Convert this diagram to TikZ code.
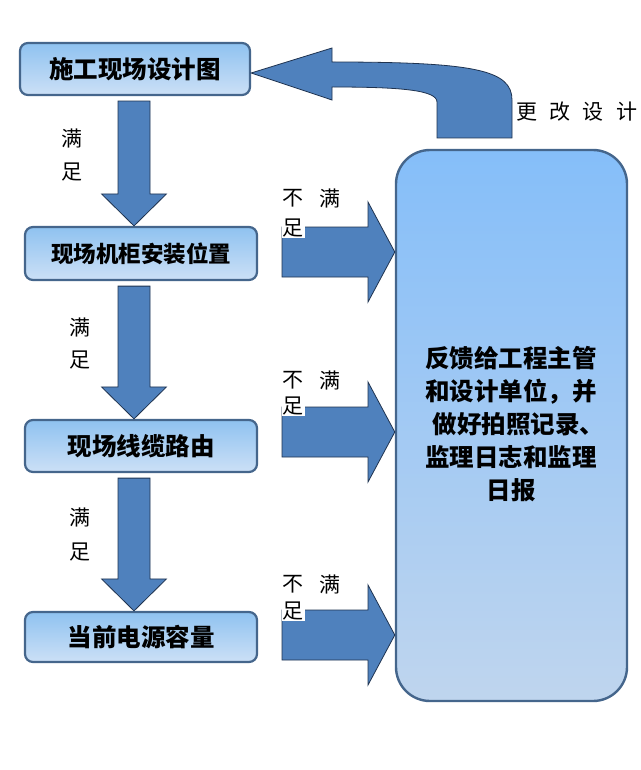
\documentclass[tikz,border=0pt]{standalone}
\usepackage{fontspec}
\setmainfont{Noto Sans CJK SC}
\usetikzlibrary{calc}
\definecolor{arrfill}{HTML}{4F81BD}
\definecolor{arrline}{HTML}{1F3350}
\definecolor{boxtop}{HTML}{8FC2F0}
\definecolor{boxbot}{HTML}{CCE0F6}
\definecolor{boxline}{HTML}{45668C}
\definecolor{bigtop}{HTML}{85BEF9}
\definecolor{bigbot}{HTML}{BFD5EE}
\tikzset{
  stepbox/.style={draw=boxline, line width=2.2pt, rounded corners=8pt,
    top color=boxtop, bottom color=boxbot, minimum height=52pt,
    font=\fontsize{24.5}{26}\selectfont\bfseries, inner sep=0pt},
  bigbox/.style={draw=boxline, line width=2.4pt, rounded corners=34pt,
    top color=bigtop, bottom color=bigbot, inner sep=0pt},
  blockarrow/.style={fill=arrfill, draw=arrline, line width=0.8pt, line join=miter},
  lbl/.style={font=\fontsize{21}{22}\selectfont, inner sep=0pt, text=black},
}
\newcommand\myDownArrow[2]{%
  \path[blockarrow] ($(ax |- #1.south)+(-16,5)$) -- ($(ax |- #1.south)+(16,5)$)
    -- ($(ax |- #2.north)+(16,-32)$) -- ($(ax |- #2.north)+(32.5,-32)$)
    -- ($(ax |- #2.north)+(0,0)$) -- ($(ax |- #2.north)+(-32.5,-32)$)
    -- ($(ax |- #2.north)+(-16,-32)$) -- cycle;}
\newcommand\myRightArrow[2]{%
  \path[blockarrow] (282,#2-25) -- (368,#2-25) -- (368,#2-50)
    -- (#1.west |- 0,#2) -- (368,#2+50) -- (368,#2+25) -- (282,#2+25) -- cycle;}
\begin{document}
\begin{tikzpicture}[x=1pt,y=-1pt]
\useasboundingbox (0,0) rectangle (640,770);
\fill[white] (0,0) rectangle (640,770);
\coordinate (ax) at (134,0);
% boxes
\node[stepbox, minimum width=230pt] (b1) at (135,69) {施工现场设计图};
\node[stepbox, minimum width=232pt, minimum height=53pt, font=\fontsize{22.5}{26}\selectfont\bfseries] (b2) at (141,253.5) {现场机柜安装位置};
\node[stepbox, minimum width=232pt] (b3) at (141,446) {现场线缆路由};
\node[stepbox, minimum width=232pt, minimum height=50pt] (b4) at (141,637) {当前电源容量};
\node[bigbox, minimum width=231pt, minimum height=551pt] (big) at (511.5,425.5) {};
\node[font=\fontsize{24.5}{33}\selectfont\bfseries, align=center, inner sep=0pt] (bigtxt) at (511,424)
  {反馈给工程主管\\和设计单位，并\\\hspace*{0.6em}做好拍照记录、\\监理日志和监理\\日报};
% down arrows
\myDownArrow{b1}{b2}
\myDownArrow{b2}{b3}
\myDownArrow{b3}{b4}
% right arrows
\myRightArrow{big}{252}
\myRightArrow{big}{432}
\myRightArrow{big}{635}
% curved feedback arrow
\path[blockarrow] (b1.east |- 0,73) -- (332,48) -- (332,62)
  .. controls (475,62) and (512,70) .. (512,100) -- (512,138)
  -- (437,138) -- (437,102) .. controls (437,90) and (400,87) .. (332,87)
  -- (332,100) -- cycle;
% labels
\node[lbl] (m1a) at (72,138) {满};
\node[lbl] (m1b) at (72,172) {足};
\node[lbl] (m2a) at (80,327) {满};
\node[lbl] (m2b) at (80,360) {足};
\node[lbl] (m3a) at (80,517) {满};
\node[lbl] (m3b) at (80,552) {足};
\node[lbl] (n1a) at (293,198) {不};
\node[lbl] (n1b) at (330,198) {满};
\node[lbl, fill=white, inner sep=1pt] (n1c) at (293,228) {足};
\node[lbl] (n2a) at (293,380) {不};
\node[lbl] (n2b) at (330,380) {满};
\node[lbl, fill=white, inner sep=1pt] (n2c) at (293,406) {足};
\node[lbl] (n3a) at (293,584) {不};
\node[lbl] (n3b) at (330,584) {满};
\node[lbl, fill=white, inner sep=1pt] (n3c) at (293,611) {足};
\node[lbl] (g1) at (527,112) {更};
\node[lbl] (g2) at (560,112) {改};
\node[lbl] (g3) at (593,112) {设};
\node[lbl] (g4) at (627,112) {计};
\end{tikzpicture}
\end{document}
